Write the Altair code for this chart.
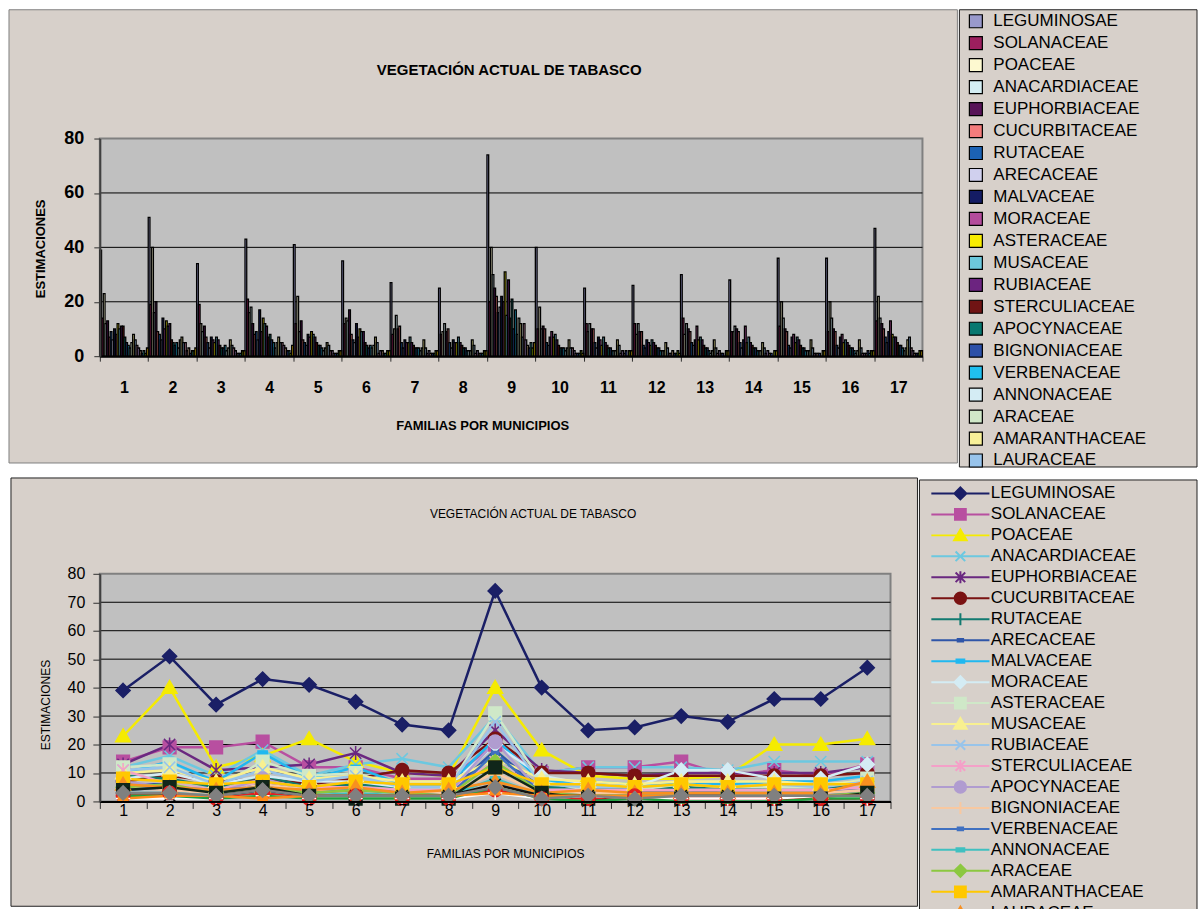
import altair as alt
import pandas as pd

FONT = "Liberation Sans"
BEIGE = "#d7d0ca"
PLOT_GRAY = "#c0c0c0"

MUNICIPIOS = list(range(1, 18))

# ---- values per family (one value per municipio 1..17) ----
LEGUMINOSAE = [39, 51, 34, 43, 41, 35, 27, 25, 74, 40, 25, 26, 30, 28, 36, 36, 47]
SOLANACEAE = [14, 19, 19, 21, 12, 12, 8, 8, 20, 10, 12, 12, 14, 9, 11, 9, 13]
POACEAE = [23, 40, 12, 16, 22, 14, 10, 9, 40, 18, 9, 8, 8, 9, 20, 20, 22]
ANACARDIACEAE = [12, 16, 9, 18, 9, 13, 15, 12, 30, 10, 12, 12, 12, 11, 14, 14, 14]
EUPHORBIACEAE = [13, 20, 11, 12, 13, 17, 10, 9, 25, 11, 10, 9, 10, 10, 10, 10, 12]
CUCURBITACEAE = [7, 9, 7, 8, 6, 8, 11, 10, 22, 10, 10, 9, 9, 9, 9, 9, 10]
RUTACEAE = [9, 8, 5, 9, 5, 6, 5, 5, 16, 5, 5, 4, 5, 5, 4, 4, 7]
ARECACEAE = [6, 6, 3, 6, 4, 5, 3, 3, 18, 4, 3, 3, 4, 3, 3, 3, 5]
MALVACEAE = [10, 14, 7, 17, 8, 12, 6, 6, 22, 7, 7, 6, 6, 6, 7, 7, 9]
MORACEAE = [8, 10, 6, 9, 7, 7, 5, 5, 20, 9, 6, 5, 11, 11, 8, 8, 13]
ASTERACEAE = [12, 13, 5, 14, 9, 10, 5, 5, 31, 7, 4, 4, 6, 5, 5, 5, 8]
MUSACEAE = [10, 11, 7, 12, 8, 9, 7, 7, 15, 8, 7, 6, 7, 7, 7, 6, 7]
RUBIACEAE = [11, 12, 6, 11, 7, 9, 5, 5, 28, 6, 5, 5, 6, 5, 6, 5, 7]
STERCULIACEAE = [11, 6, 4, 7, 5, 5, 4, 4, 14, 4, 4, 4, 4, 4, 4, 4, 5]
APOCYNACEAE = [7, 5, 3, 8, 4, 4, 3, 3, 21, 3, 3, 3, 3, 3, 3, 3, 4]
BIGNONIACEAE = [5, 4, 3, 6, 4, 3, 3, 3, 10, 3, 3, 3, 3, 3, 3, 3, 4]
VERBENACEAE = [4, 5, 4, 5, 3, 4, 3, 2, 17, 3, 2, 2, 2, 2, 2, 2, 3]
ANNONACEAE = [3, 3, 2, 3, 2, 3, 2, 2, 8, 2, 2, 2, 1, 2, 2, 1, 2]
ARACEAE = [5, 6, 3, 5, 3, 4, 3, 2, 14, 3, 2, 2, 2, 2, 2, 2, 3]
AMARANTHACEAE = [8, 7, 6, 7, 5, 7, 6, 6, 12, 6, 6, 5, 6, 5, 6, 6, 6]
LAURACEAE = [6, 5, 4, 5, 4, 5, 3, 4, 7, 3, 4, 3, 3, 3, 3, 3, 7]
MYRTACEAE = [4, 5, 3, 5, 2, 1, 1, 1, 12, 3, 1, 1, 1, 1, 1, 1, 3]
MELIACEAE = [3, 2, 2, 4, 2, 2, 2, 2, 6, 2, 2, 1, 2, 2, 1, 1, 2]
SAPOTACEAE = [2, 3, 1, 3, 1, 2, 1, 1, 4, 1, 1, 2, 1, 1, 1, 1, 1]
BORAGINACEAE = [1, 1, 1, 2, 1, 1, 1, 1, 3, 1, 2, 1, 1, 1, 1, 2, 1]
PIPERACEAE = [2, 2, 1, 2, 1, 1, 1, 1, 5, 1, 0, 1, 0, 0, 0, 1, 1]
CECROPIACEAE = [1, 2, 2, 1, 2, 2, 2, 2, 3, 2, 2, 2, 2, 2, 2, 2, 2]
ORCHIDACEAE = [3, 3, 2, 4, 2, 2, 2, 2, 5, 1, 2, 1, 2, 2, 2, 2, 2]

SERIES = [
    ("LEGUMINOSAE", LEGUMINOSAE), ("SOLANACEAE", SOLANACEAE), ("POACEAE", POACEAE),
    ("ANACARDIACEAE", ANACARDIACEAE), ("EUPHORBIACEAE", EUPHORBIACEAE),
    ("CUCURBITACEAE", CUCURBITACEAE), ("RUTACEAE", RUTACEAE), ("ARECACEAE", ARECACEAE),
    ("MALVACEAE", MALVACEAE), ("MORACEAE", MORACEAE), ("ASTERACEAE", ASTERACEAE),
    ("MUSACEAE", MUSACEAE), ("RUBIACEAE", RUBIACEAE), ("STERCULIACEAE", STERCULIACEAE),
    ("APOCYNACEAE", APOCYNACEAE), ("BIGNONIACEAE", BIGNONIACEAE), ("VERBENACEAE", VERBENACEAE),
    ("ANNONACEAE", ANNONACEAE), ("ARACEAE", ARACEAE), ("AMARANTHACEAE", AMARANTHACEAE),
    ("LAURACEAE", LAURACEAE), ("MYRTACEAE", MYRTACEAE), ("MELIACEAE", MELIACEAE),
    ("SAPOTACEAE", SAPOTACEAE), ("BORAGINACEAE", BORAGINACEAE), ("PIPERACEAE", PIPERACEAE),
    ("CECROPIACEAE", CECROPIACEAE), ("ORCHIDACEAE", ORCHIDACEAE),
]
FAMILIAS = [n for n, _ in SERIES]
LEGEND_FAMILIAS = FAMILIAS[:21]

BAR_COLORS = ["#9999cc", "#9c1f5e", "#fdf9d0", "#d4eef4", "#581458", "#f47c7c", "#1c62b4",
              "#d0d0ee", "#141c64", "#b44c9c", "#f8ec00", "#6cc8dc", "#6c2480", "#701414",
              "#087870", "#2c50a8", "#20c0f0", "#d4ecf4", "#d0e8c8", "#f8f098", "#98c4ec",
              "#f4a0c8", "#c8a0f0", "#f8c8a0", "#3c64f0", "#38c8c8", "#98c800", "#ffcc00"]
LINE_COLORS = ["#1a1f66", "#b84fa0", "#f5eb00", "#6cc8e0", "#6a2880", "#7a1212", "#127a70",
               "#2f55a8", "#20b8f0", "#d4ecf4", "#cfe8c8", "#f8f090", "#98c4ea", "#f4a0c8",
               "#b09cd0", "#f8c8a0", "#4070c0", "#40c0c0", "#8cc840", "#ffc800", "#f89020",
               "#10261a", "#101010", "#e02020", "#ffffff", "#20a040", "#ff8c1a", "#808080"]

DIAMOND = "M0,-1L1,0L0,1L-1,0Z"
SQUARE = "M-0.9,-0.9H0.9V0.9H-0.9Z"
TRIANGLE = "M0,-1L1.05,0.8H-1.05Z"
XMARK = "M-0.8,-0.8L0.8,0.8M-0.8,0.8L0.8,-0.8"
ASTER = XMARK + "M0,-1V1"
CIRCLE = ("M-0.95,0C-0.95,-0.52,-0.52,-0.95,0,-0.95C0.52,-0.95,0.95,-0.52,0.95,0"
          "C0.95,0.52,0.52,0.95,0,0.95C-0.52,0.95,-0.95,0.52,-0.95,0Z")
PLUS = "M0,-1V1M-1,0H1"
SDASH = "M-0.45,-0.22H0.45V0.22H-0.45Z"
LDASH = "M-0.65,-0.28H0.65V0.28H-0.65Z"
CYCLE = [DIAMOND, SQUARE, TRIANGLE, XMARK, ASTER, CIRCLE, PLUS, SDASH, LDASH]
SHAPES = [CYCLE[i % 9] for i in range(21)] + [SQUARE, XMARK, CIRCLE, PLUS, SDASH, LDASH, DIAMOND]
LEGLINE = "M-4.85,0H4.85"
LEGEND_SHAPES = [LEGLINE + s for s in SHAPES[:21]]

rows = [{"familia": n, "municipio": m, "valor": v}
        for n, vals in SERIES for m, v in zip(MUNICIPIOS, vals)]
df = pd.DataFrame(rows)
df_leg = df[df["familia"].isin(LEGEND_FAMILIAS)]
one = pd.DataFrame({"k": [0]})

GRID_TOP = [20, 40, 60]
GRID_BOTTOM = [10, 20, 30, 40, 50, 60, 70]
TICKS_TOP = [0, 20, 40, 60, 80]
TICKS_BOTTOM = [0, 10, 20, 30, 40, 50, 60, 70, 80]
TITLE = "VEGETACIÓN ACTUAL DE TABASCO"


def box(x1, x2, y1, y2, fill, stroke, sw=1):
    return alt.Chart(one).mark_rect(fill=fill, stroke=stroke, strokeWidth=sw).encode(
        x=alt.value(x1), x2=alt.value(x2), y=alt.value(y1), y2=alt.value(y2))


# ================= TOP: bar chart =================
W1, H1 = 824, 218
x_top = alt.X("municipio:O", scale=alt.Scale(paddingInner=0, paddingOuter=0),
              axis=alt.Axis(title="FAMILIAS POR MUNICIPIOS", titleFontSize=13, titleFontWeight="bold",
                            titleX=383, titleY=69, titleBaseline="middle",
                            labelAngle=0, labelFontSize=16, labelFontWeight="bold", labelPadding=18,
                            tickBand="extent", tickSize=5, tickColor="#303030",
                            domainColor="black", domainWidth=2, grid=False, zindex=1))
y_top = alt.Y("valor:Q", scale=alt.Scale(domain=[0, 80], nice=False),
              axis=alt.Axis(values=TICKS_TOP, title="ESTIMACIONES", titleFontSize=13,
                            titleFontWeight="bold", titleX=-59, titleY=110, titleBaseline="middle",
                            labelFontSize=18, labelFontWeight="bold", labelPadding=10,
                            tickSize=6, tickColor="#303030", domainColor="#404040", domainWidth=2,
                            grid=False, zindex=1))

grid_top = alt.Chart(pd.DataFrame({"valor": GRID_TOP})).mark_rule(color="black", strokeWidth=1).encode(
    y=y_top, x=alt.value(0), x2=alt.value(W1))

bars = alt.Chart(df).mark_bar(stroke="black", strokeWidth=1.3).encode(
    x=x_top,
    xOffset=alt.XOffset("familia:N", sort=FAMILIAS,
                        scale=alt.Scale(domain=FAMILIAS, paddingInner=0, paddingOuter=0)),
    y=y_top,
    color=alt.Color("familia:N", sort=FAMILIAS,
                    scale=alt.Scale(domain=FAMILIAS, range=BAR_COLORS),
                    legend=alt.Legend(orient="none", legendX=869, legendY=-126, title=None,
                                      values=LEGEND_FAMILIAS, symbolType="square", symbolSize=169,
                                      symbolStrokeColor="black", symbolStrokeWidth=1.2,
                                      symbolOpacity=1, labelFontSize=17, labelColor="black",
                                      labelOffset=9, rowPadding=3, labelLimit=300, padding=0)),
)

title_top = alt.Chart(one).mark_text(text=TITLE, font=FONT, fontSize=15, fontWeight="bold",
                                     align="center", baseline="middle", color="black").encode(
    x=alt.value(410), y=alt.value(-69))

top = alt.layer(
    box(-91, 859, -129, 325, BEIGE, "#808080"),
    box(861, 1099, -129, 329, BEIGE, "#202020"),
    box(0, W1, 0, H1, PLOT_GRAY, "#808080", 2),
    grid_top,
    bars,
    title_top,
).properties(width=W1, height=H1)

# ================= BOTTOM: line chart =================
W2, H2 = 792, 228
x_bot = alt.X("municipio:O", scale=alt.Scale(type="band", paddingInner=0, paddingOuter=0),
              axis=alt.Axis(title="FAMILIAS POR MUNICIPIOS", titleFontSize=12, titleFontWeight="normal",
                            titleX=406, titleY=52, titleBaseline="middle",
                            labelAngle=0, labelFontSize=16, labelPadding=-6,
                            tickBand="extent", tickSize=7, tickColor="#303030",
                            domainColor="black", domainWidth=2, grid=False, zindex=1))
y_bot = alt.Y("valor:Q", scale=alt.Scale(domain=[0, 80], nice=False),
              axis=alt.Axis(values=TICKS_BOTTOM, title="ESTIMACIONES", titleFontSize=12,
                            titleFontWeight="normal", titleX=-54, titleY=131, titleBaseline="middle",
                            labelFontSize=16, labelPadding=8, tickSize=7, tickColor="#303030",
                            domainColor="#404040", domainWidth=2, grid=False, zindex=1))

grid_bot = alt.Chart(pd.DataFrame({"valor": GRID_BOTTOM})).mark_rule(color="black", strokeWidth=1).encode(
    y=y_bot, x=alt.value(0), x2=alt.value(W2))

lines = alt.Chart(df).mark_line(strokeWidth=2.5, opacity=1).encode(
    x=x_bot, y=y_bot,
    color=alt.Color("familia:N", sort=FAMILIAS,
                    scale=alt.Scale(domain=FAMILIAS, range=LINE_COLORS), legend=None),
)

points = alt.Chart(df).mark_point(filled=True, size=200, strokeWidth=1.5, opacity=1).encode(
    x=x_bot, y=y_bot,
    fill=alt.Fill("familia:N", scale=alt.Scale(domain=FAMILIAS, range=LINE_COLORS), legend=None),
    stroke=alt.Stroke("familia:N", scale=alt.Scale(domain=FAMILIAS, range=LINE_COLORS), legend=None),
    shape=alt.Shape("familia:N", scale=alt.Scale(domain=FAMILIAS, range=SHAPES), legend=None),
)

leg_kw = dict(orient="none", legendX=853.5, legendY=-89, title=None, symbolSize=144,
              symbolStrokeWidth=2, symbolOpacity=1, labelFontSize=17, labelColor="black",
              labelOffset=22, rowPadding=0, gridAlign="all", labelLimit=300, padding=0)
legend_layer = alt.Chart(df_leg).mark_point(filled=True, opacity=0, strokeWidth=2).encode(
    x=x_bot, y=y_bot,
    fill=alt.Fill("familia:N", scale=alt.Scale(domain=LEGEND_FAMILIAS, range=LINE_COLORS[:21]),
                  legend=alt.Legend(**leg_kw)),
    stroke=alt.Stroke("familia:N", scale=alt.Scale(domain=LEGEND_FAMILIAS, range=LINE_COLORS[:21]),
                      legend=alt.Legend(**leg_kw)),
    shape=alt.Shape("familia:N", scale=alt.Scale(domain=LEGEND_FAMILIAS, range=LEGEND_SHAPES),
                    legend=alt.Legend(**leg_kw)),
)

title_bot = alt.Chart(one).mark_text(text=TITLE, font=FONT, fontSize=12, align="center",
                                     baseline="middle", color="black").encode(
    x=alt.value(434), y=alt.value(-60))

bottom = alt.layer(
    box(-89, 819, -96, 333, BEIGE, "#202020"),
    box(821, 1099, -94, 337, BEIGE, "#202020"),
    box(0, W2, 0, H2, PLOT_GRAY, "#808080", 2),
    grid_bot,
    lines,
    points,
    legend_layer,
    title_bot,
).resolve_scale(fill="independent", stroke="independent", shape="independent").properties(
    width=W2, height=H2)

chart = alt.vconcat(top, bottom, spacing=7).resolve_scale(
    color="independent", fill="independent", stroke="independent", shape="independent"
).resolve_legend(color="independent", fill="independent", stroke="independent", shape="independent"
).properties(
    padding={"left": 8, "top": 8, "right": 0, "bottom": 0}, background="white"
).configure_view(stroke=None).configure_axis(
    labelFont=FONT, titleFont=FONT, labelColor="black", titleColor="black"
).configure_legend(labelFont=FONT).configure_text(font=FONT)

chart.save("out.html", embed_options={"renderer": "svg", "actions": False})
